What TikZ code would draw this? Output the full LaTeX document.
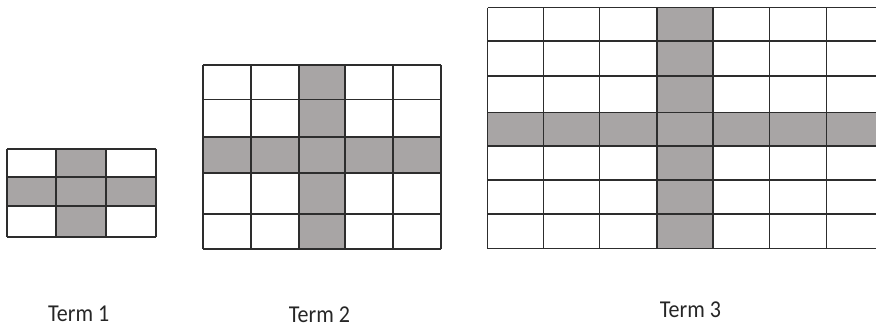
\documentclass[tikz,border=0pt]{standalone}
\usepackage{fontspec}
\setmainfont{Carlito}
\definecolor{cellgray}{RGB}{168,165,165}
\definecolor{linegray}{RGB}{45,45,45}
\tikzset{
  gridline/.style={draw=linegray, line width=1.4pt},
  shaded/.style={fill=cellgray},
  termlabel/.style={font=\fontsize{22}{26}\selectfont, text=black!85, inner sep=0pt, anchor=base, yscale=1.1}
}
\begin{document}
\begin{tikzpicture}[x=1pt,y=-1pt]
\useasboundingbox (0,0) rectangle (876,327);
% ---------- Term 1 ----------
\fill[shaded] (56,149) rectangle (106,237);
\fill[shaded] (7,177) rectangle (156,206);
\foreach \x in {7,56,106,156} \draw[gridline] (\x,149) -- (\x,237);
\foreach \y in {149,177,206,237} \draw[gridline] (7,\y) -- (156,\y);
% ---------- Term 2 ----------
\fill[shaded] (299,65) rectangle (345,249);
\fill[shaded] (203,137) rectangle (441,173);
\foreach \x in {203,251,299,345,393,441} \draw[gridline] (\x,65) -- (\x,249);
\foreach \y in {65,99.5,137,173,214,249} \draw[gridline] (203,\y) -- (441,\y);
% ---------- Term 3 ----------
\fill[shaded] (657,7.5) rectangle (713,248.5);
\fill[shaded] (487.5,112.5) rectangle (876,146);
\foreach \x in {487.5,543.5,599.5,657,713,769.5,826.5} \draw[gridline] (\x,7.5) -- (\x,248.5);
\foreach \y in {7.5,41,76,112.5,146,180,214,248.5} \draw[gridline] (487.5,\y) -- (876,\y);
% ---------- labels ----------
\node[termlabel] (t1) at (78.7,321) {Term 1};
\node[termlabel] (t2) at (319.5,322.5) {Term 2};
\node[termlabel] (t3) at (690.5,317) {Term 3};
\end{tikzpicture}
\end{document}
